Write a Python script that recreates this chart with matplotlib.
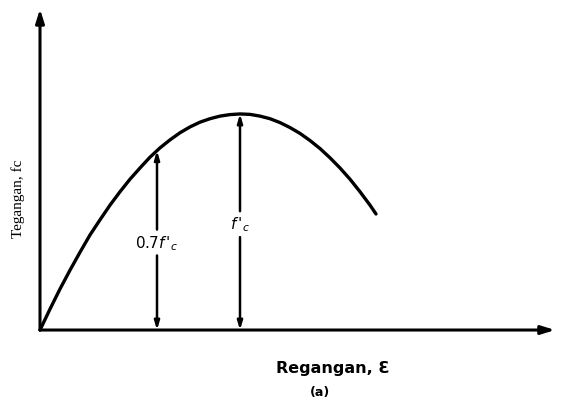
import matplotlib
matplotlib.use('Agg')
import matplotlib.pyplot as plt

# Kurva tegangan-regangan beton (regangan dan tegangan relatif terhadap puncak)
regangan = [0.0, 0.05, 0.10, 0.15, 0.20, 0.25, 0.30, 0.35, 0.40, 0.45,
            0.50, 0.55, 0.60, 0.65, 0.70, 0.75, 0.80, 0.85, 0.90, 0.95,
            1.00, 1.05, 1.10, 1.15, 1.20, 1.25, 1.30, 1.35, 1.40, 1.45,
            1.50, 1.55, 1.60, 1.65, 1.68]
tegangan = [0.0, 0.097, 0.19, 0.277, 0.36, 0.44, 0.51, 0.578, 0.64, 0.698,
            0.75, 0.80, 0.843, 0.88, 0.913, 0.94, 0.962, 0.978, 0.99, 0.997,
            1.0, 0.998, 0.99, 0.978, 0.96, 0.937, 0.91, 0.877, 0.84, 0.797,
            0.75, 0.698, 0.64, 0.578, 0.537]

# panah ukur: posisi regangan, tinggi di kurva, label
panah_x = [0.585, 1.0]
panah_y = [0.83, 1.0]
panah_label = [r"0.7$f\,'_c$", r"$f\,'_c$"]
panah_label_y = [0.405, 0.49]

sumbu_x_max = 2.575
sumbu_y_max = 1.486

fig = plt.figure(figsize=(5.65, 4.06), dpi=100)
ax = fig.add_axes([0, 0, 1, 1])
ax.set_xlim(-0.2, 2.625)
ax.set_ylim(-0.347, 1.532)
ax.axis('off')

# sumbu dengan panah
for ujung in [(sumbu_x_max, 0), (0, sumbu_y_max)]:
    ax.annotate('', xy=ujung, xytext=(0, 0),
                arrowprops=dict(arrowstyle='-|>,head_length=0.8,head_width=0.25',
                                color='black', lw=2.2, shrinkA=0, shrinkB=0))

ax.plot(regangan, tegangan, color='black', lw=2.4, solid_capstyle='round')

gaya = dict(arrowstyle='-|>,head_length=0.5,head_width=0.15',
            color='black', lw=1.8, shrinkA=0, shrinkB=0)
for x, y, lbl, ly in zip(panah_x, panah_y, panah_label, panah_label_y):
    ax.annotate('', xy=(x, y), xytext=(x, ly + 0.06), arrowprops=gaya)
    ax.annotate('', xy=(x, 0.0), xytext=(x, ly - 0.06), arrowprops=gaya)
    ax.text(x, ly, lbl, ha='center', va='center', fontsize=11,
            family='DejaVu Sans')

ax.text(-0.11, 0.61, 'Tegangan, fc', rotation=90, ha='center', va='center',
        fontsize=11, family='Liberation Serif')
ax.text(1.465, -0.175, 'Regangan, \u0190', ha='center', va='center',
        fontsize=11.5, fontweight='bold', family='DejaVu Sans')
ax.text(1.40, -0.285, '(a)', ha='center', va='center',
        fontsize=9, fontweight='bold', family='DejaVu Sans')

fig.savefig('out.png', dpi=100, facecolor='white')
